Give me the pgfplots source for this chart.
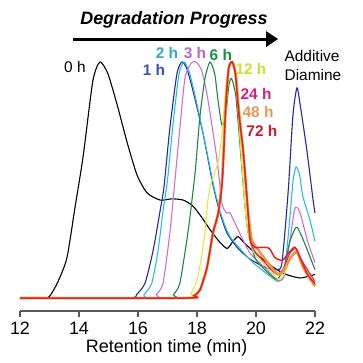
\documentclass[border=0pt]{standalone}
\usepackage{pgfplots}
\pgfplotsset{compat=1.18}
\usepackage{fontspec}
\setmainfont{Liberation Sans}
\usetikzlibrary{arrows.meta}
\definecolor{c1}{RGB}{35,40,165}
\definecolor{c2}{RGB}{40,190,225}
\definecolor{c3}{RGB}{200,110,225}
\definecolor{c6}{RGB}{30,135,65}
\definecolor{c12}{RGB}{225,235,50}
\definecolor{c24}{RGB}{225,30,130}
\definecolor{c48}{RGB}{240,150,60}
\definecolor{c72}{RGB}{230,35,35}
\definecolor{l1}{RGB}{60,80,185}
\definecolor{l2}{RGB}{50,170,200}
\definecolor{l3}{RGB}{190,100,210}
\definecolor{l6}{RGB}{30,140,70}
\definecolor{l12}{RGB}{200,225,50}
\definecolor{l24}{RGB}{215,30,120}
\definecolor{l48}{RGB}{235,150,80}
\definecolor{l72}{RGB}{200,30,45}
\begin{document}
\begin{tikzpicture}
\path[use as bounding box] (-20bp,-52bp) rectangle (343bp,311bp);
\begin{axis}[
  scale only axis, width=295bp, height=271bp,
  xmin=12, xmax=22, ymin=-0.055, ymax=1.093,
  axis y line=none, ytick=\empty,
  axis x line*=bottom,
  x axis line style={-, line width=1.2bp, color=black!65},
  xtick={12,14,16,18,20,22},
  tick style={line width=1.2bp, color=black!65},
  tick align=outside, major tick length=6bp,
  /pgf/number format/assume math mode=true,
  xticklabel style={font=\fontsize{18}{18}\selectfont, inner sep=0pt, anchor=north, yshift=-4.5bp},
  xlabel={Retention time (min)},
  xlabel style={font=\fontsize{18}{18}\selectfont, at={(axis description cs:0.497,0)}, anchor=north, inner sep=0pt, yshift=-28.5bp},
  clip=false,
  every axis plot/.append style={smooth, tension=0.4, line width=1.1bp, no markers},
]
% 0 h
\addplot[black] coordinates {(12,0) (12.85,0) (13.02,0.01) (13.29,0.07) (13.59,0.17) (13.86,0.38) (14.14,0.6) (14.47,0.92) (14.71,1.0) (14.98,0.95) (15.29,0.82) (15.63,0.66) (15.97,0.52) (16.31,0.445) (16.75,0.415) (17.15,0.42) (17.53,0.415) (17.86,0.39) (18.17,0.34) (18.44,0.29) (18.75,0.24) (19.02,0.21) (19.22,0.24) (19.39,0.26) (19.59,0.235) (19.80,0.21) (20.37,0.15) (20.92,0.105) (21.49,0.085) (22,0.1)};
% 1 h
\addplot[c1] coordinates {(12,0) (15.63,0) (15.95,0.015) (16.24,0.064) (16.51,0.2) (16.75,0.37) (16.88,0.47) (17.08,0.72) (17.32,0.95) (17.49,1.0) (17.66,0.97) (17.86,0.88) (18.20,0.70) (18.54,0.48) (18.78,0.36) (19.02,0.275) (19.39,0.21) (19.80,0.165) (20.31,0.13) (20.71,0.12) (20.88,0.15) (21.09,0.45) (21.25,0.77) (21.39,0.89) (21.52,0.80) (21.73,0.62) (21.93,0.42) (22.0,0.36)};
% 2 h
\addplot[c2] coordinates {(12,0) (15.97,0) (16.2,0.015) (16.47,0.064) (16.68,0.2) (16.85,0.37) (17.0,0.5) (17.19,0.74) (17.39,0.95) (17.56,1.0) (17.73,0.96) (17.93,0.86) (18.27,0.66) (18.61,0.45) (18.88,0.33) (19.12,0.26) (19.52,0.2) (19.9,0.15) (20.4,0.1) (20.75,0.07) (20.95,0.1) (21.12,0.3) (21.26,0.5) (21.36,0.555) (21.48,0.52) (21.59,0.43) (21.83,0.33) (22.0,0.24)};
% 3 h
\addplot[c3] coordinates {(12,0) (16.41,0) (16.62,0.015) (16.85,0.064) (17.08,0.275) (17.19,0.415) (17.42,0.72) (17.59,0.93) (17.8,0.995) (17.97,1.0) (18.17,0.96) (18.37,0.84) (18.68,0.585) (18.85,0.40) (19.0,0.36) (19.12,0.36) (19.39,0.29) (19.8,0.19) (20.37,0.12) (20.71,0.075) (20.95,0.09) (21.12,0.22) (21.3,0.37) (21.39,0.385) (21.52,0.35) (21.75,0.24) (22.0,0.15)};
% 6 h
\addplot[c6] coordinates {(12,0) (16.98,0) (17.2,0.015) (17.42,0.064) (17.69,0.275) (17.83,0.415) (17.95,0.55) (18.1,0.77) (18.27,0.93) (18.44,1.0) (18.6,0.95) (18.72,0.83) (18.85,0.73) (18.98,0.78) (19.08,0.9) (19.17,0.93) (19.32,0.85) (19.52,0.55) (19.7,0.3) (19.97,0.17) (20.3,0.12) (20.71,0.08) (20.95,0.13) (21.15,0.24) (21.36,0.3) (21.52,0.27) (21.75,0.2) (22.0,0.12)};
% 12 h
\addplot[c12] coordinates {(12,0) (17.53,0) (17.8,0.02) (18.03,0.09) (18.27,0.275) (18.37,0.415) (18.5,0.5) (18.6,0.53) (18.72,0.58) (18.85,0.7) (19.0,0.92) (19.17,1.0) (19.33,0.9) (19.5,0.6) (19.68,0.32) (19.9,0.2) (20.3,0.14) (20.75,0.08) (20.95,0.1) (21.17,0.17) (21.36,0.2) (21.55,0.15) (22.0,0.06)};
% 24 h
\addplot[c24] coordinates {(12,0) (17.66,0) (17.9,0.01) (18.1,0.034) (18.34,0.13) (18.54,0.275) (18.72,0.36) (18.86,0.5) (18.97,0.8) (19.07,0.97) (19.19,1.0) (19.3,0.95) (19.42,0.78) (19.56,0.63) (19.7,0.415) (19.8,0.25) (19.95,0.2) (20.3,0.15) (20.7,0.1) (20.95,0.13) (21.15,0.19) (21.36,0.21) (21.55,0.16) (22,0.07)};
% 48 h
\addplot[c48, line width=2.6bp] coordinates {(12,0) (17.66,0) (17.9,0.01) (18.1,0.034) (18.34,0.13) (18.54,0.275) (18.72,0.36) (18.86,0.52) (18.97,0.8) (19.07,0.97) (19.19,1.0) (19.31,0.95) (19.43,0.78) (19.58,0.6) (19.72,0.38) (19.85,0.25) (20.1,0.2) (20.4,0.15) (20.75,0.1) (20.95,0.12) (21.17,0.17) (21.39,0.195) (21.6,0.13) (22,0.05)};
% 72 h
\addplot[c72, line width=1.5bp] coordinates {(12,0) (17.66,0) (17.9,0.01) (18.1,0.034) (18.34,0.13) (18.54,0.275) (18.72,0.36) (18.86,0.5) (18.97,0.8) (19.07,0.97) (19.19,1.0) (19.3,0.95) (19.42,0.78) (19.56,0.63) (19.7,0.415) (19.8,0.25) (19.95,0.215) (20.2,0.215) (20.45,0.21) (20.65,0.17) (20.9,0.16) (21.1,0.19) (21.32,0.215) (21.5,0.17) (21.75,0.1) (22.0,0.06)};
% annotations
\draw[line width=3bp, -{Triangle[length=12bp,width=15bp]}] (axis cs:13.80,1.097) -- (axis cs:20.75,1.097);
\node[font=\fontsize{18}{18}\selectfont\bfseries\itshape] at (axis cs:17.22,1.178) {Degradation Progress};
\node[font=\fontsize{15.5}{15.5}\selectfont] at (axis cs:13.86,0.979) {0 h};
\node[font=\fontsize{15.5}{15.5}\selectfont\bfseries, text=l2] at (axis cs:16.98,1.038) {2 h};
\node[font=\fontsize{15.5}{15.5}\selectfont\bfseries, text=l3] at (axis cs:17.93,1.038) {3 h};
\node[font=\fontsize{15.5}{15.5}\selectfont\bfseries, text=l6] at (axis cs:18.81,1.03) {6 h};
\node[font=\fontsize{15.5}{15.5}\selectfont\bfseries, text=l1] at (axis cs:16.54,0.966) {1 h};
\node[font=\fontsize{15.5}{15.5}\selectfont\bfseries, text=l12] at (axis cs:19.83,0.97) {12 h};
\node[font=\fontsize{15.5}{15.5}\selectfont\bfseries, text=l24] at (axis cs:20.0,0.864) {24 h};
\node[font=\fontsize{15.5}{15.5}\selectfont\bfseries, text=l48] at (axis cs:20.07,0.788) {48 h};
\node[font=\fontsize{15.5}{15.5}\selectfont\bfseries, text=l72] at (axis cs:20.2,0.708) {72 h};
\node[font=\fontsize{15.5}{15.5}\selectfont] at (axis cs:21.90,1.025) {Additive};
\node[font=\fontsize{15.5}{15.5}\selectfont] at (axis cs:21.93,0.945) {Diamine};
\end{axis}
\end{tikzpicture}
\end{document}
